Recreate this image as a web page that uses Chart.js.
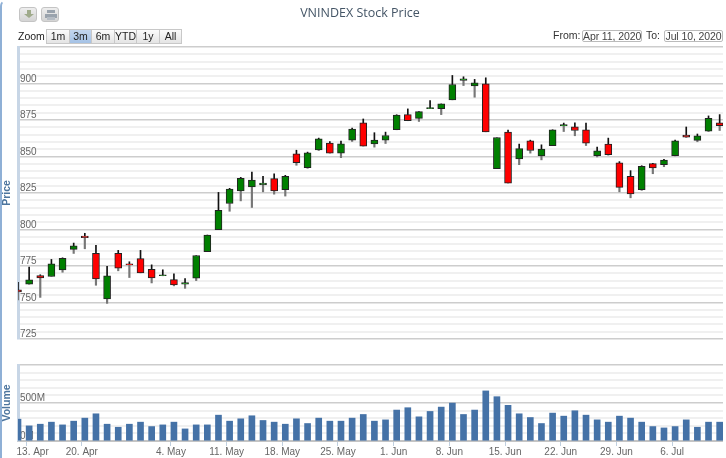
<!DOCTYPE html>
<html><head><meta charset="utf-8">
<script src="https://cdn.jsdelivr.net/npm/chart.js@4/dist/chart.umd.js"></script>
<style>
html,body{margin:0;padding:0;width:726px;height:458px;overflow:hidden;background:#fff;font-family:"Liberation Sans",sans-serif}
canvas{position:absolute;left:-3px;top:0}
#edge{position:absolute;left:0;top:0;width:6px;height:470px;border-left:2px solid #8fb0d6;border-top:2px solid #8fb0d6;border-top-left-radius:6px;box-sizing:border-box;border-top-color:transparent}
.ib{position:absolute;top:7px;width:18px;height:15px;border:1px solid #c4c4c4;border-radius:3px;background:linear-gradient(#eee,#d4d4d4);box-sizing:border-box}
.ib svg{position:absolute;left:3px;top:2px}
#zl{position:absolute;left:18px;top:30px;font-size:10.5px;color:#222;line-height:13px}
.rb{position:absolute;top:29px;height:15px;box-sizing:border-box;border:1px solid #c8c8c8;background:linear-gradient(#fbfbfb,#e4e4e4);font-size:10.5px;line-height:13px;text-align:center;color:#222}
.rb.on{background:linear-gradient(#c3d6ee,#a5c2e6)}
.lb{position:absolute;top:29px;font-size:10.5px;line-height:13px;color:#333}
.in{position:absolute;top:30px;height:12px;box-sizing:border-box;border:1px solid #bbb;border-radius:2px;font-size:10.5px;line-height:10px;color:#444;text-align:center;white-space:nowrap;overflow:hidden;background:#fff;letter-spacing:-.1px}
</style></head><body>
<canvas id="price" width="726" height="458"></canvas>
<canvas id="vol" width="726" height="458"></canvas>
<div id="edge"></div>
<div class="ib" style="left:19px"><svg width="12" height="10"><path d="M4 0h4v4h3l-5 4-5-4h3z" fill="#a0ab8c"/></svg></div>
<div class="ib" style="left:41px"><svg width="12" height="10"><rect x="2" y="0" width="8" height="3" fill="#9aa3ad"/><rect x="0" y="4" width="12" height="4" fill="#9aa3ad"/><rect x="2" y="7" width="8" height="3" fill="#b5bcc4"/></svg></div>
<div id="zl">Zoom</div>
<div class="rb" style="left:46px;width:24px">1m</div>
<div class="rb on" style="left:69px;width:23px">3m</div>
<div class="rb" style="left:91px;width:24px">6m</div>
<div class="rb" style="left:114px;width:23px">YTD</div>
<div class="rb" style="left:136px;width:24px">1y</div>
<div class="rb" style="left:159px;width:23px">All</div>
<div class="lb" style="left:553px">From:</div>
<div class="in" style="left:582px;width:60px">Apr 11, 2020</div>
<div class="lb" style="left:646px">To:</div>
<div class="in" style="left:664px;width:59px">Jul 10, 2020</div>
<script>
const chartTitle = "VNINDEX Stock Price";
const tickIndex = [1,6,14,19,24,29,34,39,44,49,54,59];
const tickLabels = ["13. Apr","20. Apr","4. May","11. May","18. May","25. May","1. Jun","8. Jun","15. Jun","22. Jun","29. Jun","6. Jul"];
const open = [758.6,762.5,768.5,767.8,772.4,786.4,795.5,783.6,752.4,783.6,776.5,780,772.8,768.3,765.7,762.5,766.6,784.8,799.9,817.8,826.5,829.1,830.6,834.8,827.2,851.8,842.4,854.5,859.2,852.3,861.2,873.1,858.7,861.2,868.3,878.7,876.1,882.8,882.8,888.8,902.1,898.4,899.8,841.7,866.7,848.3,860.7,850.4,857.5,870.9,870.4,868.3,850.6,858.5,845.6,836.4,827.2,845.1,844.4,850.6,864.7,861,867.4,873.1];
const high = [763.8,774.2,769,779.5,780.6,790.7,797.4,789.1,774.7,785.7,777.9,785.7,775.8,772.4,769.6,766.4,782.2,796.2,825.4,828.2,835.7,839.4,836.4,838.2,837.1,854.3,853,862.6,860.3,860.5,869.5,875.7,866.3,866.7,878.6,882.6,880.7,888.3,886,905.5,904.6,902.8,903.9,863,868.1,858.5,861.2,858,868.3,872.9,873.1,872.9,856.4,862.6,846.5,840.3,843.7,845.4,848.1,861.2,870.2,865.4,877.8,878.7];
const low = [751.7,762.5,753.5,767.8,770.7,783.6,786.8,761.8,749.4,771.7,767.1,770.3,763.4,768.3,761.4,759.7,765,784.8,799.9,812.5,819.6,815.1,825.8,824.2,822.9,844,841.9,854.1,852.3,849.2,860.3,857.1,856.4,858.9,868.3,874.5,874,882.8,878.7,888.8,898.6,890.6,866.9,841.7,831.8,844.4,852.3,847.7,857.5,867.1,864.2,857.5,849.7,850.9,825.8,821.7,826.8,838.2,843,850.4,863,860.1,867.1,867.8];
const close = [757.2,765.5,766.9,776.5,780.2,788.9,794.4,766.2,768.3,773.5,775.8,770.3,766.9,769,762.1,763.6,782.2,796.2,813.2,827.7,835.1,833.9,831.8,826.5,836.4,845.8,852.5,862.1,852.3,858.7,868.8,857.1,861.2,864.4,878.4,874.5,880.7,883.5,886,899.3,903.2,900.5,866.9,863,831.8,855.4,854.1,855,868.3,871.8,867.8,859.2,853.9,851.3,828.9,824.4,843.3,842.1,847.5,860.7,863.3,864.2,876.1,871.1];
const volume = [287,199,221,248,212,261,301,358,221,181,221,248,190,212,248,159,212,212,340,261,292,332,270,248,221,292,230,301,261,261,301,349,261,278,407,438,318,389,446,499,349,407,659,583,469,358,309,230,367,327,398,340,278,248,327,301,248,190,172,190,278,181,248,248];

const UP = "#008000", DOWN = "#ff0000";
const FONT = {family:'"Liberation Sans",sans-serif', size:10};
const XMAX = 63.3;
const TICK_SHIFT = 0.27;
const xy = (f) => open.map((_, i) => ({x:i, y:f(i)}));

function xBase(show){
  return {type:"linear", min:0, max:XMAX, offset:false, display:show,
    grid:{drawOnChartArea:false, drawTicks:true, tickLength:5, color:"#c0d0e0", offset:false},
    border:{display:true, color:"#c4c4c4", width:2},
    afterBuildTicks:(s)=>{ s.ticks = tickIndex.map(i=>({value:i-TICK_SHIFT})); },
    afterFit:(s)=>{ s.height = show?17:0; },
    ticks:{autoSkip:false, maxRotation:0, color:"#666", font:FONT, padding:0,
      callback:(v)=>{ const k = tickIndex.indexOf(Math.round(v+TICK_SHIFT)); return k>=0?tickLabels[k]:""; }}};
}
function yBase(min,max,step,major,fmt,title){
  return {type:"linear", min, max, position:"left",
    afterFit:(s)=>{ s.width = 21; },
    title:{display:true, text:title, color:"#4d759e", font:{family:FONT.family,size:10.5,weight:"bold"}, padding:{top:4,bottom:0}},
    grid:{drawTicks:false, color:(c)=>c.tick.value%major===0?"#cdcdcd":"#f0f0f0", lineWidth:(c)=>c.tick.value%major===0?1.5:2},
    border:{display:true, color:"#c8d6e6", width:3},
    ticks:{stepSize:step, autoSkip:false, mirror:true, padding:2, labelOffset:-4.5, color:"#666", font:FONT, callback:fmt}};
}
// The first date label is nudged inside the plot, as in the reference.
const firstLabelInside = {id:"firstLabelInside", beforeDraw(chart){
  const items = chart.scales.x.getLabelItems();
  if(items.length) items[0].options.translation[0] += 6.5;
}};

new Chart(document.getElementById("price"),{
  type:"bar",
  data:{datasets:[
    {label:"High wick", data:xy(i=>[Math.max(open[i],close[i]),high[i]]), barThickness:1, backgroundColor:"#111", borderWidth:0, grouped:false, order:3},
    {label:"Low wick", data:xy(i=>[low[i],Math.min(open[i],close[i])]), barThickness:1.5, backgroundColor:"#777", borderWidth:0, grouped:false, order:2},
    {label:"Price", data:xy(i=>[open[i],close[i]]), barThickness:7, minBarLength:1, grouped:false, order:1,
      backgroundColor:open.map((o,i)=>close[i]>=o?UP:DOWN), borderColor:"#222", borderWidth:1, borderSkipped:false}
  ]},
  options:{responsive:false, animation:false, layout:{padding:{top:0,bottom:119,left:0,right:0}},
    plugins:{legend:{display:false}, tooltip:{enabled:false},
      title:{display:true, text:chartTitle, color:"#445566", font:{family:'"Open Sans",sans-serif',size:12.5,weight:"normal"}, padding:{top:6,bottom:26}}},
    scales:{x:xBase(false), y:yBase(725,925,5,25,(v)=>v%25===0&&v<925?String(v):"","Price")}}
});

new Chart(document.getElementById("vol"),{
  type:"bar",
  plugins:[firstLabelInside],
  data:{datasets:[{label:"Volume", data:xy(i=>volume[i]), barThickness:6, backgroundColor:"#4572a7", borderWidth:0}]},
  options:{responsive:false, animation:false, layout:{padding:{top:365,bottom:0,left:0,right:0}},
    plugins:{legend:{display:false}, tooltip:{enabled:false}},
    scales:{x:xBase(true), y:yBase(0,1000,100,500,(v)=>v===0||v===500?v+"M":"","Volume")}}
});
</script>
</body></html>
